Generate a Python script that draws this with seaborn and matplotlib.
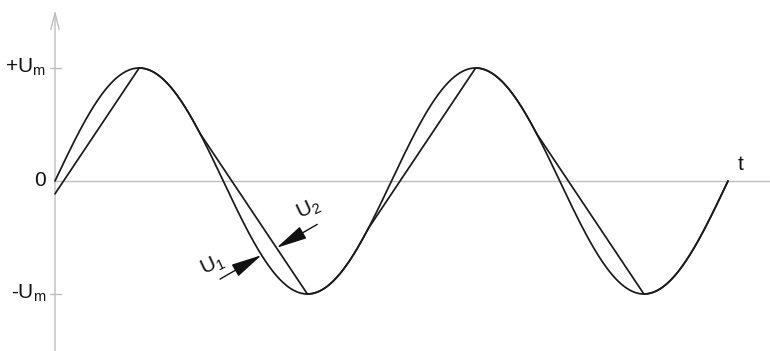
import numpy as np
import pandas as pd
import matplotlib
matplotlib.use("Agg")
import matplotlib.pyplot as plt
import seaborn as sns

# ---- data -------------------------------------------------------------
amplitude = 1.0                      # +Um / -Um
phase_end = 720                      # two periods, in degrees
chord_starts = [-25, 155, 335, 515]  # where U2 leaves the sine (deg)
chord_ends = [90, 270, 450, 630]     # peak / trough reached by U2 chords
y_tick_values = [1.0, 0.0, -1.0]
y_tick_labels = [r"+U$_\mathregular{m}$", "0", r"-U$_\mathregular{m}$"]
axis_label = "t"
u1_label = r"U$_\mathregular{1}$"
u2_label = r"U$_\mathregular{2}$"
u1_pointer_phase = 221               # where the U1 arrow touches
u2_pointer_phase = 237               # where the U2 arrow touches

# ---- curves -----------------------------------------------------------
phase = np.linspace(0, phase_end, 1441)
u1 = amplitude * np.sin(np.radians(phase))


def u2_at(p):
    p = np.atleast_1d(np.asarray(p, dtype=float))
    out = amplitude * np.sin(np.radians(p))
    for s, e in zip(chord_starts, chord_ends):
        ys = amplitude * np.sin(np.radians(s))
        ye = amplitude * np.sin(np.radians(e))
        m = (p >= s) & (p <= e)
        out[m] = ys + (ye - ys) * (p[m] - s) / (e - s)
    return out


u2 = u2_at(phase)
df = pd.DataFrame({
    "phase": np.concatenate([phase, phase]),
    "value": np.concatenate([u1, u2]),
    "series": ["U1"] * len(phase) + ["U2"] * len(phase),
})

# ---- figure -----------------------------------------------------------
sns.set_style("white")
plt.rcParams["font.family"] = ["Liberation Sans", "DejaVu Sans"]
plt.rcParams["mathtext.fontset"] = "custom"
plt.rcParams["mathtext.rm"] = "Liberation Sans"

fig = plt.figure(figsize=(7.7, 3.51), dpi=100)
ax = fig.add_axes([0, 0, 1, 1])
px_per_deg = 673 / 720
px_per_unit = 113
ax.set_xlim(-55 / px_per_deg, 715 / px_per_deg)
ax.set_ylim(-170 / px_per_unit, 181 / px_per_unit)
ax.axis("off")

axis_col = "#bdbdbd"
ax.axhline(0, xmin=55 / 770, xmax=1, color=axis_col, lw=1.0, zorder=1)
ax.annotate("", xy=(0, 171 / px_per_unit), xytext=(0, -175 / px_per_unit),
            arrowprops=dict(arrowstyle="->,head_length=1.0,head_width=0.25",
                            mutation_scale=12, color=axis_col, lw=1.0,
                            shrinkA=0, shrinkB=0), zorder=1)
for v in (amplitude, -amplitude):
    ax.plot([-5 / px_per_deg, 6 / px_per_deg], [v, v], color=axis_col, lw=1.0)

sns.lineplot(data=df, x="phase", y="value", hue="series", units="series",
             estimator=None, palette=["#1a1a1a", "#1a1a1a"], lw=1.25,
             legend=False, ax=ax, sort=False, zorder=3)

for v, lab in zip(y_tick_values, y_tick_labels):
    ax.text(-9 / px_per_deg, v + 1 / px_per_unit, lab, ha="right",
            va="center", fontsize=15, color="#111")
ax.text(683 / px_per_deg, 17 / px_per_unit, axis_label, ha="left",
        va="center", fontsize=15, color="#111")

# pointer arrows
ang = np.radians(30)
dx_dir = np.cos(ang) / px_per_deg
dy_dir = np.sin(ang) / px_per_unit
tip1 = (u1_pointer_phase, float(np.sin(np.radians(u1_pointer_phase))))
tail1 = (tip1[0] - 48 * dx_dir, tip1[1] - 48 * dy_dir)
ax.annotate("", xy=tip1, xytext=tail1,
            arrowprops=dict(arrowstyle="-|>,head_length=1.6,head_width=0.35",
                            mutation_scale=12, color="#111", lw=1.0,
                            shrinkA=0, shrinkB=0), zorder=4)
ax.text(tail1[0] - 8 * dx_dir, tail1[1] + 14 / px_per_unit, u1_label,
        rotation=25, ha="center", va="center", fontsize=15, color="#111")

tip2 = (u2_pointer_phase, float(u2_at(u2_pointer_phase)[0]))
tail2 = (tip2[0] + 47 * dx_dir, tip2[1] + 47 * dy_dir)
ax.annotate("", xy=tip2, xytext=tail2,
            arrowprops=dict(arrowstyle="-|>,head_length=1.6,head_width=0.35",
                            mutation_scale=12, color="#111", lw=1.0,
                            shrinkA=0, shrinkB=0), zorder=4)
ax.text(tail2[0] - 10 * dx_dir, tail2[1] + 15 / px_per_unit, u2_label,
        rotation=25, ha="center", va="center", fontsize=15, color="#111")

fig.savefig("out.png", dpi=100)
